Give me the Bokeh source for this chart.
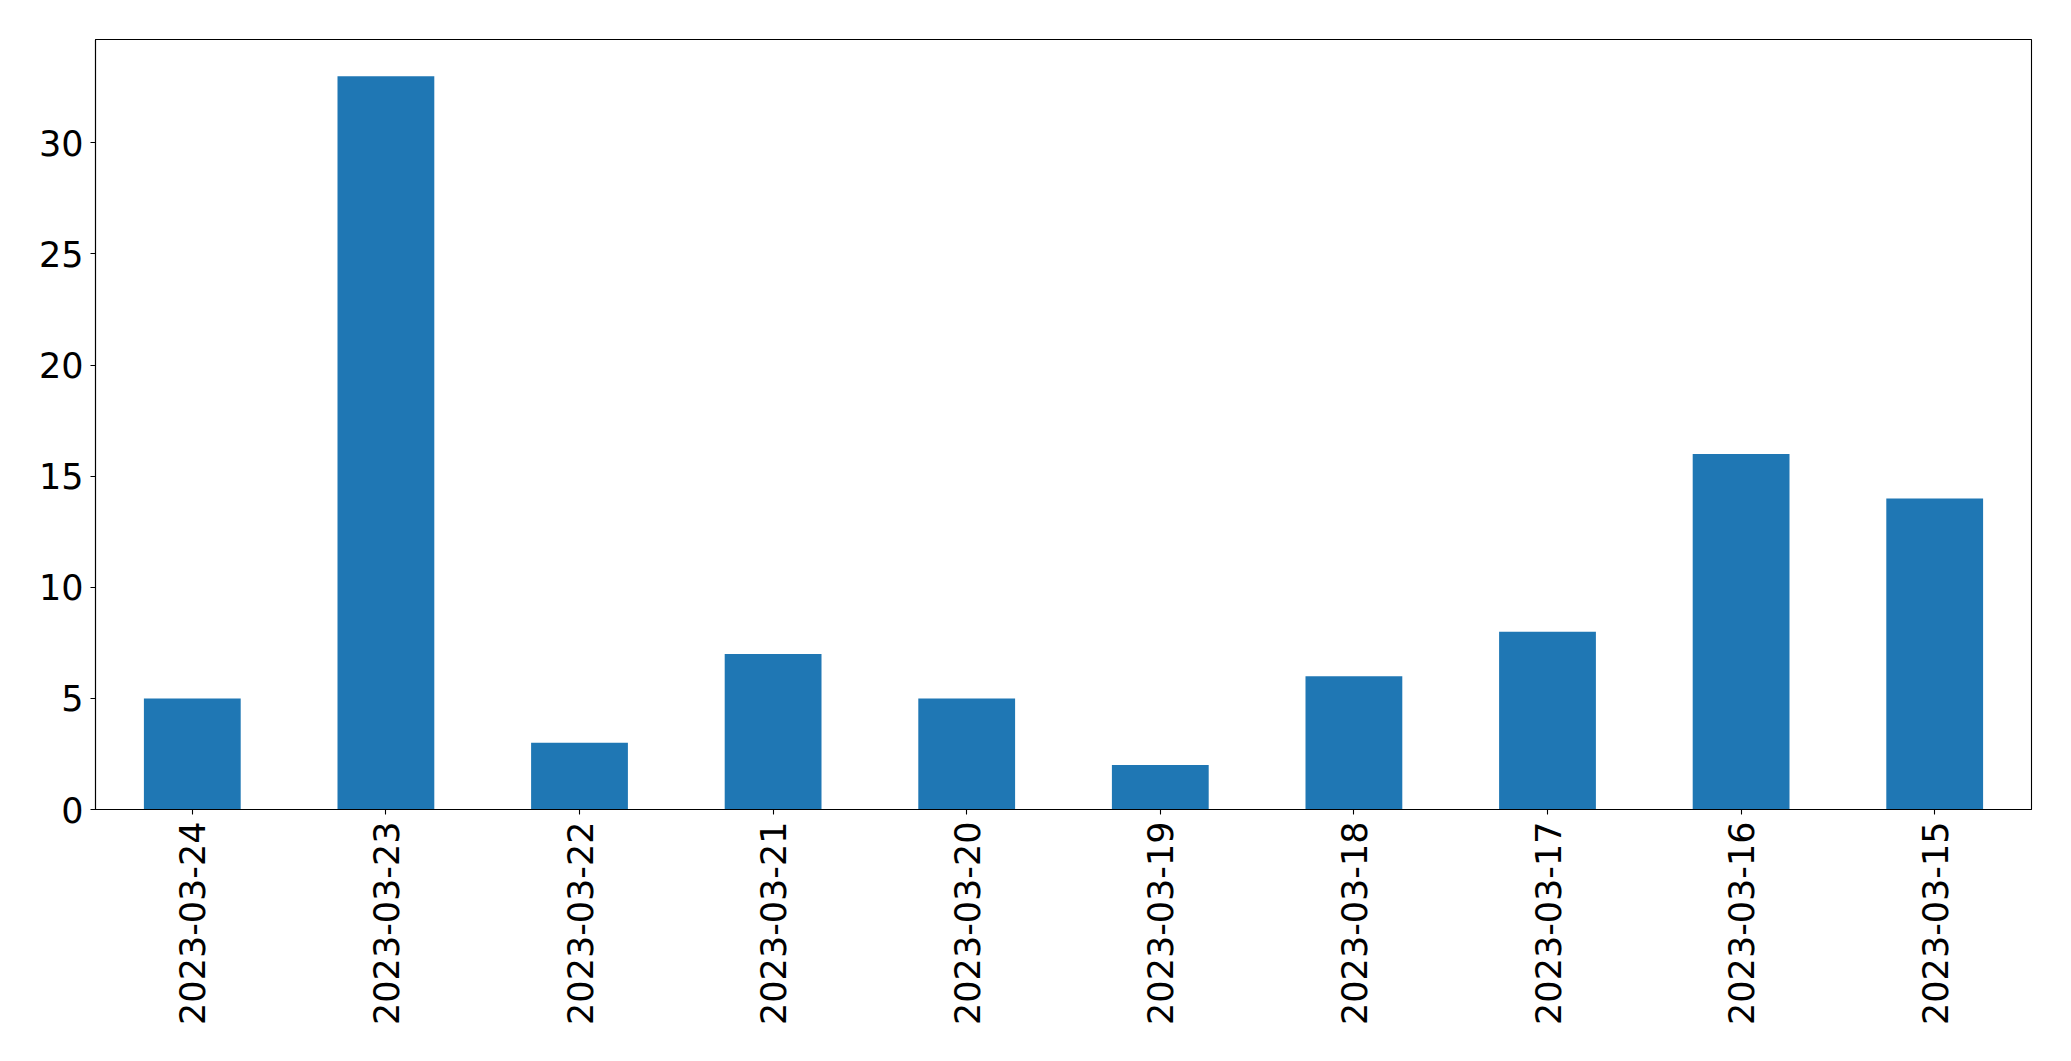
from bokeh.plotting import figure
from bokeh.models import FactorRange, Range1d, FixedTicker, ColumnDataSource
from bokeh.embed import file_html
from bokeh.resources import INLINE
import math

dates = ["2023-03-24", "2023-03-23", "2023-03-22", "2023-03-21", "2023-03-20",
         "2023-03-19", "2023-03-18", "2023-03-17", "2023-03-16", "2023-03-15"]
counts = [5, 33, 3, 7, 5, 2, 6, 8, 16, 14]
y_ticks = [0, 5, 10, 15, 20, 25, 30]

source = ColumnDataSource(data=dict(date=dates, count=counts))

p = figure(width=2071, height=1061, output_backend="svg", toolbar_location=None,
           x_range=FactorRange(factors=dates, range_padding=0),
           y_range=Range1d(0, max(counts) * 1.05),
           min_border_left=95, min_border_right=40, min_border_top=39, min_border_bottom=252)

p.vbar(x="date", top="count", width=0.5, source=source,
       fill_color="#1f77b4", line_color=None)

p.xgrid.visible = False
p.ygrid.visible = False
p.background_fill_color = "white"
p.border_fill_color = "white"
p.outline_line_color = "black"
p.outline_line_width = 1.1

p.yaxis.ticker = FixedTicker(ticks=y_ticks)

for ax in (p.xaxis, p.yaxis):
    ax.axis_line_color = "black"
    ax.axis_line_width = 1.1
    ax.major_tick_line_color = "black"
    ax.major_tick_line_width = 1.1
    ax.major_tick_out = 5
    ax.major_tick_in = 0
    ax.minor_tick_line_color = None
    ax.major_label_text_font = "DejaVu Sans"
    ax.major_label_text_font_size = "35px"
    ax.major_label_text_color = "black"
    ax.major_label_standoff = 7

p.xaxis.major_label_orientation = math.pi / 2
p.xaxis.group_text_font_size = "0px"

open("out.html", "w").write(file_html(p, INLINE))
